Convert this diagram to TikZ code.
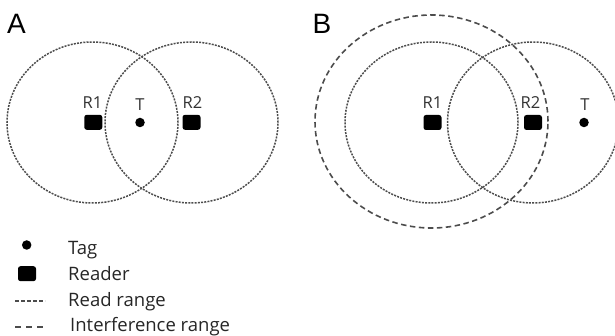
\documentclass[tikz,border=0pt]{standalone}
\usepackage{fontspec}
\setmainfont{Open Sans}
\newfontfamily\panelfont{Liberation Sans}
\begin{document}
\begin{tikzpicture}[x=1pt,y=-1pt,
  readrange/.style={draw=black!70, line width=1.5pt, dash pattern=on 2pt off 1.2pt},
  interf/.style={draw=black!70, line width=1.6pt, dash pattern=on 5.5pt off 3.5pt},
  reader/.style={fill=black, rounded corners=2.5pt, minimum width=18pt, minimum height=15pt, inner sep=0pt},
  tag/.style={circle, fill=black, minimum size=9.5pt, inner sep=0pt},
  lbl/.style={font=\fontsize{16.5}{18}\selectfont, text=black!80, inner sep=0pt, anchor=base},
  leg/.style={font=\fontsize{18.5}{20}\selectfont, text=black!85, anchor=base west, inner sep=0pt},
  panel/.style={font=\panelfont\fontsize{28}{30}\selectfont, inner sep=0pt}]
\useasboundingbox (0,0) rectangle (615,336);
% Panel A
\node[panel] (pA) at (16.5,23.5) {A};
\draw[readrange] (92.5,122.5) ellipse [x radius=85.5pt, y radius=80.5pt];
\draw[readrange] (191.5,122.5) ellipse [x radius=86.5pt, y radius=80.5pt];
\node[reader] (a1) at (93.3,122.3) {};
\node[reader] (a2) at (191.5,122.3) {};
\node[tag] (at) at (140,122.5) {};
\node[lbl] (la1) at (92.5,108.3) {R1};
\node[lbl] (la2) at (192.5,108.3) {R2};
\node[lbl] (lat) at (140,110.7) {T};
% Panel B
\node[panel] (pB) at (322,23.5) {B};
\draw[interf] (431.5,121.5) ellipse [x radius=116.5pt, y radius=106.5pt];
\draw[readrange] (431.5,122.5) ellipse [x radius=86.5pt, y radius=80.5pt];
\draw[readrange] (533,122.5) ellipse [x radius=85.5pt, y radius=80.5pt];
\node[reader] (b1) at (432.5,122.5) {};
\node[reader] (b2) at (533,122.5) {};
\node[tag] (bt) at (584,122.5) {};
\node[lbl] (lb1) at (432.5,108.3) {R1};
\node[lbl] (lb2) at (530.5,108.3) {R2};
\node[lbl] (lbt) at (585,110.7) {T};
% Legend
\node[tag] (ltag) at (26.7,245) {};
\node[reader] (lread) at (27,273.7) {};
\coordinate (rr1) at (15,301);
\coordinate (rr2) at (45,301);
\draw[draw=black!70, line width=1.2pt, dash pattern=on 4pt off 2pt] (rr1) -- (rr2);
\coordinate (ir1) at (15,327);
\coordinate (ir2) at (43,327);
\draw[draw=black!70, line width=1.3pt, dash pattern=on 6pt off 5pt] (ir1) -- (ir2);
\node[leg] (t1) at (68,254.5) {Tag};
\node[leg] (t2) at (68,281) {Reader};
\node[leg] (t3) at (68,306.7) {Read range};
\node[leg] (t4) at (70,331) {Interference range};
\end{tikzpicture}
\end{document}
